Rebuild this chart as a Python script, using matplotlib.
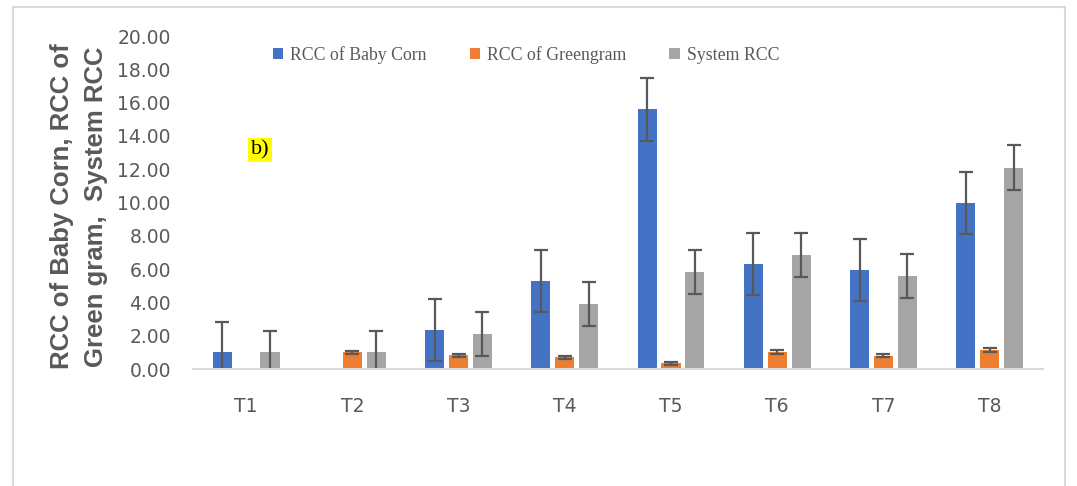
import matplotlib.pyplot as plt
import numpy as np
from matplotlib.patches import Rectangle

treatments = ["T1", "T2", "T3", "T4", "T5", "T6", "T7", "T8"]
# nan = no bar shown in the reference
baby_corn = [1.0, np.nan, 2.35, 5.3, 15.6, 6.3, 5.95, 9.95]
baby_corn_err = [1.85, np.nan, 1.85, 1.87, 1.9, 1.87, 1.87, 1.87]
greengram = [np.nan, 1.0, 0.82, 0.7, 0.35, 1.02, 0.8, 1.15]
greengram_err = [np.nan, 0.1, 0.1, 0.1, 0.1, 0.1, 0.1, 0.1]
system = [1.0, 1.0, 2.1, 3.9, 5.85, 6.85, 5.6, 12.1]
system_err = [1.3, 1.3, 1.33, 1.33, 1.32, 1.33, 1.32, 1.33]

fig = plt.figure(figsize=(10.77, 4.86), dpi=100)
ax = fig.add_axes([0.1792, 0.2407, 0.789, 0.6852])

x = np.arange(len(treatments))
w = 0.18
off = 0.225
err_kw = dict(ecolor="#595959", elinewidth=1.6, capsize=5, capthick=1.6)
ax.bar(x - off, baby_corn, w, yerr=baby_corn_err, color="#4472C4",
       label="RCC of Baby Corn", error_kw=err_kw)
ax.bar(x, greengram, w, yerr=greengram_err, color="#ED7D31",
       label="RCC of Greengram", error_kw=err_kw)
ax.bar(x + off, system, w, yerr=system_err, color="#A5A5A5",
       label="System RCC", error_kw=err_kw)

ax.set_xlim(-0.5, 7.5)
ax.set_ylim(0, 20)
ax.set_yticks(np.arange(0, 21, 2))
ax.set_yticklabels([f"{v:.2f}" for v in np.arange(0, 21, 2)])
ax.set_xticks(x)
ax.set_xticklabels(treatments)
ax.tick_params(axis="both", length=0, labelsize=13.5, labelcolor="#595959")
ax.tick_params(axis="y", pad=16)
ax.tick_params(axis="x", pad=20)
for s in ["top", "right", "left"]:
    ax.spines[s].set_visible(False)
ax.spines["bottom"].set_color("#D9D9D9")
ax.spines["bottom"].set_linewidth(1.5)

ax.legend(loc="center", bbox_to_anchor=(0.392, 0.943), ncol=3, frameon=False,
          prop={"family": "Liberation Serif", "size": 12.8},
          labelcolor="#595959", handlelength=0.6, handleheight=0.6,
          handletextpad=0.4, columnspacing=2.4)

fig.text(0.0735, 0.575, "RCC of Baby Corn, RCC of\nGreen gram,  System RCC",
         rotation=90, ha="center", va="center", fontsize=18.5,
         fontweight="bold", color="#595959", family="Liberation Sans",
         linespacing=1.5)

fig.text(251 / 1077, 1 - 150 / 486, "b)", fontsize=16, family="Liberation Serif",
         va="center", ha="left",
         bbox=dict(facecolor="yellow", edgecolor="none", pad=2))

fig.patches.append(Rectangle((13 / 1077, -0.01), 1052 / 1077, 1 - 7 / 486 + 0.01,
                             transform=fig.transFigure, fill=False,
                             edgecolor="#D9D9D9", linewidth=1.5))

fig.savefig("out.png", dpi=100)
